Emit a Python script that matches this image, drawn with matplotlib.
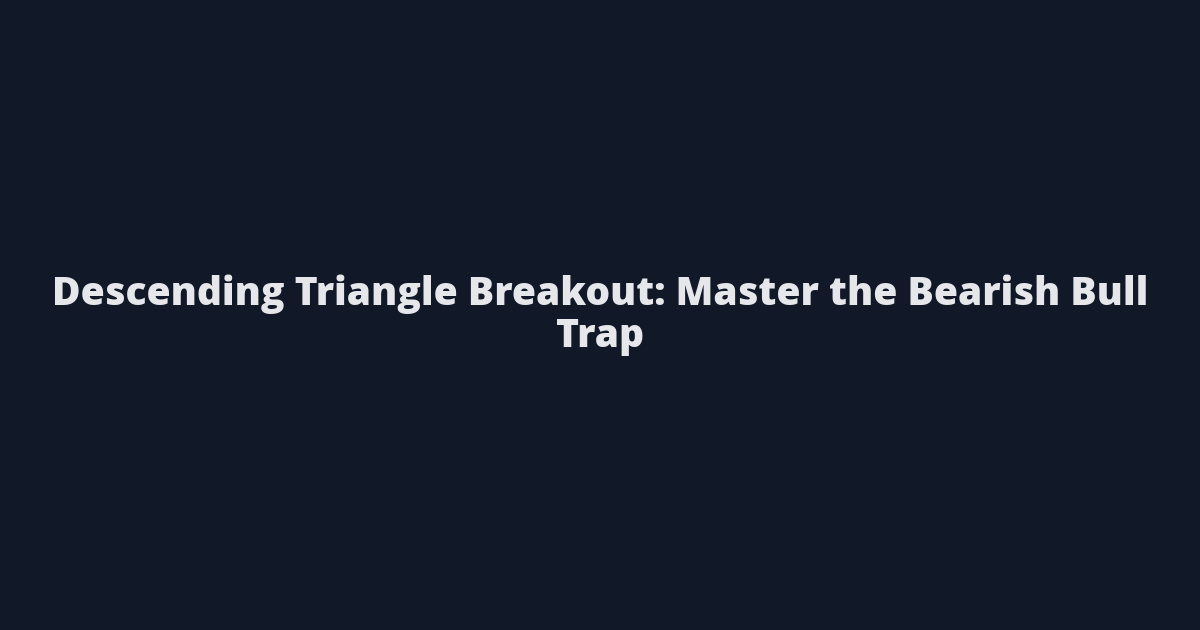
import matplotlib
matplotlib.use("Agg")
import matplotlib.pyplot as plt

# title card text and colours
title_lines = ["Descending Triangle Breakout: Master the Bearish Bull", "Trap"]
bg_color = "#111827"
text_color = "#e5e7eb"

fig = plt.figure(figsize=(12, 6.3), dpi=100, facecolor=bg_color)

# first line sets the font size: about 1095 px wide in the reference
size = 28
t1 = fig.text(0.5, 1 - 294 / 630, title_lines[0], ha="center", va="center",
              color=text_color, fontsize=size, fontweight=800, family="Open Sans")
fig.canvas.draw()
w = t1.get_window_extent().width
size = size * 1095 / w
t1.set_fontsize(size)

t2 = fig.text(0.5, 1 - 337 / 630, title_lines[1], ha="center", va="center",
              color=text_color, fontsize=size, fontweight=800, family="Open Sans")

fig.savefig("out.png", dpi=100, facecolor=bg_color)
